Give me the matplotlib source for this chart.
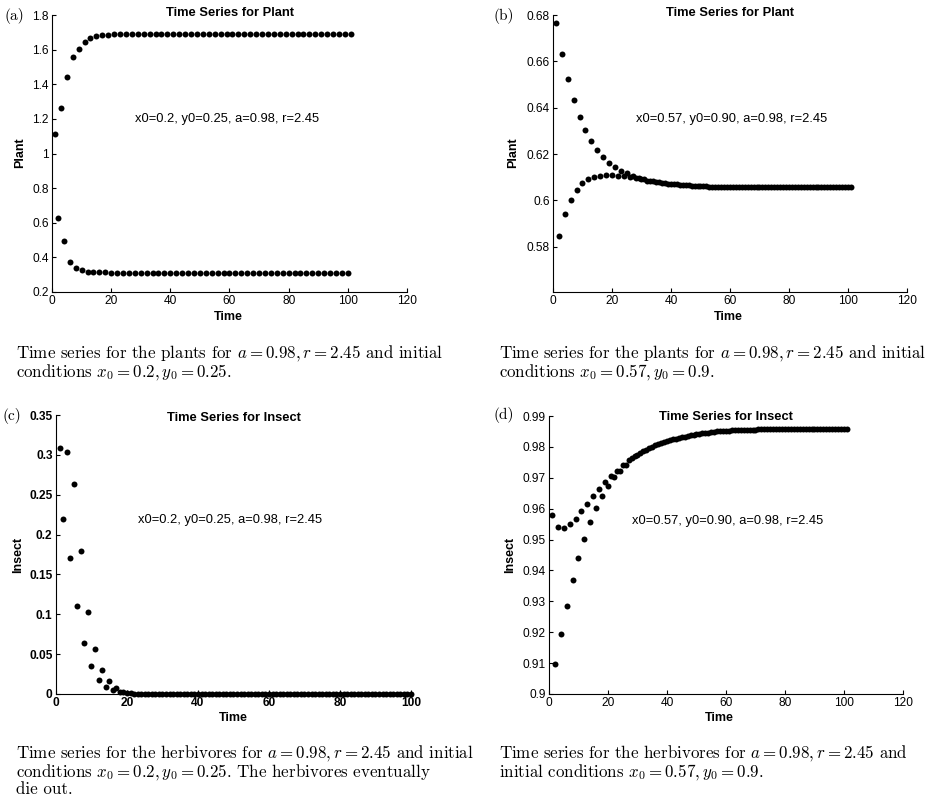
import matplotlib
matplotlib.use('Agg')
from matplotlib import pyplot as plt
from matplotlib.ticker import FormatStrFormatter

plt.rcParams['font.family'] = ['Liberation Sans', 'DejaVu Sans']
plt.rcParams['mathtext.fontset'] = 'cm'

# (a) plants, x0=0.2, y0=0.25
plant_a = [1.113, 0.625, 1.263, 0.494, 1.444, 0.375, 1.558, 0.336, 1.606, 0.329,
           1.646, 0.318, 1.665, 0.316, 1.681, 0.314, 1.686, 0.313, 1.687, 0.312,
           1.688, 0.312, 1.688, 0.312, 1.688, 0.312, 1.688, 0.312, 1.688, 0.312,
           1.688, 0.312, 1.688, 0.312, 1.688, 0.312, 1.688, 0.312, 1.688, 0.312,
           1.688, 0.312, 1.688, 0.312, 1.688, 0.312, 1.688, 0.312, 1.688, 0.312,
           1.688, 0.312, 1.688, 0.312, 1.688, 0.312, 1.688, 0.312, 1.688, 0.312,
           1.688, 0.312, 1.688, 0.312, 1.688, 0.312, 1.688, 0.312, 1.688, 0.312,
           1.688, 0.312, 1.688, 0.312, 1.688, 0.312, 1.688, 0.312, 1.688, 0.312,
           1.688, 0.312, 1.688, 0.312, 1.688, 0.312, 1.688, 0.312, 1.688, 0.312,
           1.688, 0.312, 1.688, 0.312, 1.688, 0.312, 1.688, 0.312, 1.688, 0.312,
           1.688]

# (b) plants, x0=0.57, y0=0.90
plant_b = [0.6767, 0.5845, 0.6633, 0.5940, 0.6524, 0.6003, 0.6433, 0.6046, 0.6360, 0.6075,
           0.6302, 0.6094, 0.6255, 0.6101, 0.6216, 0.6106, 0.6186, 0.6109, 0.6163, 0.6109,
           0.6144, 0.6106, 0.6128, 0.6105, 0.6117, 0.6101, 0.6106, 0.6096, 0.6098, 0.6092,
           0.6091, 0.6086, 0.6085, 0.6082, 0.6081, 0.6078, 0.6076, 0.6075, 0.6072, 0.6071,
           0.6070, 0.6069, 0.6068, 0.6067, 0.6066, 0.6065, 0.6064, 0.6063, 0.6062, 0.6062,
           0.6061, 0.6061, 0.6060, 0.6060, 0.6059, 0.6059, 0.6059, 0.6058, 0.6058, 0.6058,
           0.6057, 0.6057, 0.6057, 0.6057, 0.6057, 0.6057, 0.6057, 0.6057, 0.6057, 0.6057,
           0.6057, 0.6057, 0.6057, 0.6057, 0.6057, 0.6056, 0.6056, 0.6056, 0.6056, 0.6056,
           0.6056, 0.6056, 0.6056, 0.6056, 0.6056, 0.6056, 0.6056, 0.6056, 0.6056, 0.6056,
           0.6056, 0.6056, 0.6056, 0.6056, 0.6056, 0.6056, 0.6056, 0.6056, 0.6056, 0.6056,
           0.6056]

# (c) insects, x0=0.2, y0=0.25
insect_c = [0.308, 0.220, 0.304, 0.171, 0.264, 0.110, 0.179, 0.064, 0.103, 0.035,
            0.057, 0.018, 0.030, 0.009, 0.016, 0.005, 0.007, 0.002, 0.003, 0.001,
            0.0015, 0.0005, 0.0006, 0.0002, 0.0003, 0.0001, 0.0001, 0.0, 0.0, 0.0,
            0.0, 0.0, 0.0, 0.0, 0.0, 0.0, 0.0, 0.0, 0.0, 0.0,
            0.0, 0.0, 0.0, 0.0, 0.0, 0.0, 0.0, 0.0, 0.0, 0.0,
            0.0, 0.0, 0.0, 0.0, 0.0, 0.0, 0.0, 0.0, 0.0, 0.0,
            0.0, 0.0, 0.0, 0.0, 0.0, 0.0, 0.0, 0.0, 0.0, 0.0,
            0.0, 0.0, 0.0, 0.0, 0.0, 0.0, 0.0, 0.0, 0.0, 0.0,
            0.0, 0.0, 0.0, 0.0, 0.0, 0.0, 0.0, 0.0, 0.0, 0.0,
            0.0, 0.0, 0.0, 0.0, 0.0, 0.0, 0.0, 0.0, 0.0, 0.0]

# (d) insects, x0=0.57, y0=0.90
insect_d = [0.9578, 0.9098, 0.9542, 0.9195, 0.9537, 0.9286, 0.9550, 0.9368, 0.9567, 0.9441,
            0.9591, 0.9503, 0.9616, 0.9557, 0.9642, 0.9602, 0.9664, 0.9642, 0.9686, 0.9674,
            0.9706, 0.9701, 0.9723, 0.9722, 0.9742, 0.9742, 0.9758, 0.9763, 0.9769, 0.9775,
            0.9780, 0.9786, 0.9791, 0.9796, 0.9801, 0.9805, 0.9809, 0.9813, 0.9816, 0.9819,
            0.9822, 0.9825, 0.9827, 0.9829, 0.9831, 0.9833, 0.9835, 0.9837, 0.9839, 0.9841,
            0.9842, 0.9844, 0.9845, 0.9846, 0.9848, 0.9849, 0.9850, 0.9851, 0.9852, 0.9853,
            0.9853, 0.9854, 0.9854, 0.9855, 0.9855, 0.9855, 0.9856, 0.9856, 0.9856, 0.9856,
            0.9857, 0.9857, 0.9857, 0.9857, 0.9857, 0.9857, 0.9858, 0.9858, 0.9858, 0.9858,
            0.9858, 0.9858, 0.9858, 0.9858, 0.9858, 0.9858, 0.9858, 0.9858, 0.9858, 0.9858,
            0.9858, 0.9858, 0.9858, 0.9858, 0.9858, 0.9858, 0.9858, 0.9858, 0.9858, 0.9858,
            0.9858]

yticks_a = [0.2, 0.4, 0.6, 0.8, 1.0, 1.2, 1.4, 1.6, 1.8]
yticks_b = [0.58, 0.60, 0.62, 0.64, 0.66, 0.68]
yticks_c = [0, 0.05, 0.1, 0.15, 0.2, 0.25, 0.3, 0.35]
yticks_d = [0.9, 0.91, 0.92, 0.93, 0.94, 0.95, 0.96, 0.97, 0.98, 0.99]

note_a = 'x0=0.2, y0=0.25, a=0.98, r=2.45'
note_b = 'x0=0.57, y0=0.90, a=0.98, r=2.45'

captions = {
    'a': ['Time series for the plants for $a = 0.98, r = 2.45$ and initial',
          'conditions $x_0 = 0.2, y_0 = 0.25$.'],
    'b': ['Time series for the plants for $a = 0.98, r = 2.45$ and initial',
          'conditions $x_0 = 0.57, y_0 = 0.9$.'],
    'c': ['Time series for the herbivores for $a = 0.98, r = 2.45$ and initial',
          'conditions $x_0 = 0.2, y_0 = 0.25$. The herbivores eventually',
          'die out.'],
    'd': ['Time series for the herbivores for $a = 0.98, r = 2.45$ and',
          'initial conditions $x_0 = 0.57, y_0 = 0.9$.'],
}

W, H = 937.0, 801.0
fig = plt.figure(figsize=(W / 100, H / 100), dpi=100)


def px(x, y):
    """pixel position -> figure fraction"""
    return x / W, 1 - y / H


def panel(rect, values, xlim, ylim, yticks, title, ylabel, note, note_xy,
          title_xy, ylabel_xy, xlabel_xy, tag, tag_xy, bold_ticks=False):
    l, t, r, b = rect
    ax = fig.add_axes([l / W, 1 - b / H, (r - l) / W, (b - t) / H])
    times = list(range(1, len(values) + 1))
    ax.plot(times, values, 'o', color='black', ms=4.3, mew=0, clip_on=False)
    ax.set_xlim(*xlim)
    ax.set_ylim(*ylim)
    ax.set_yticks(yticks)
    ax.set_xticks(list(range(0, xlim[1] + 1, 20)))
    ax.yaxis.set_major_formatter(FormatStrFormatter('%g'))
    ax.spines['top'].set_visible(False)
    ax.spines['right'].set_visible(False)
    for s in ('left', 'bottom'):
        ax.spines[s].set_linewidth(0.8)
    ax.tick_params(direction='in', length=3, width=0.8, labelsize=8.6, pad=2.5)
    if bold_ticks:
        for lab in ax.get_xticklabels() + ax.get_yticklabels():
            lab.set_fontweight('bold')
    ax.text(note_xy[0], note_xy[1], note, fontsize=9.3, ha='left', va='center')
    fig.text(*px(*title_xy), title, fontsize=9.3, fontweight='bold',
             ha='center', va='baseline')
    fig.text(*px(*ylabel_xy), ylabel, fontsize=9, fontweight='bold',
             rotation=90, ha='center', va='center')
    fig.text(*px(*xlabel_xy), 'Time', fontsize=9, fontweight='bold',
             ha='center', va='center')
    fig.text(*px(*tag_xy), '(%s)' % tag, family='cmr10', fontsize=11,
             ha='center', va='center')
    return ax


panel((52, 15, 407, 292), plant_a, (0, 120), (0.2, 1.8), yticks_a,
      'Time Series for Plant', 'Plant', note_a, (28, 1.2),
      (230, 16.5), (20, 153), (228, 316.5), 'a', (14, 16))
panel((553, 15, 907, 292), plant_b, (0, 120), (0.5605, 0.68), yticks_b,
      'Time Series for Plant', 'Plant', note_b, (28, 0.635),
      (730, 16.5), (513, 153), (728, 316.5), 'b', (504, 16))
panel((56, 415, 411, 694), insect_c, (0, 100), (0, 0.35), yticks_c,
      'Time Series for Insect', 'Insect', note_a, (23, 0.218),
      (234, 421.5), (18, 555), (233, 718), 'c', (12, 416), bold_ticks=True)
panel((549, 416, 903, 694), insect_d, (0, 120), (0.9, 0.99), yticks_d,
      'Time Series for Insect', 'Insect', note_b, (28, 0.956),
      (726, 420), (510, 555), (719, 718), 'd', (504, 415))

# captions under each panel (top edge of first line)
cap_pos = {'a': (16, 343), 'b': (499, 343), 'c': (16, 743), 'd': (499, 743)}
for key, lines in captions.items():
    x0, y0 = cap_pos[key]
    fig.text(*px(x0, y0), '\n'.join(lines), family='cmr10', fontsize=12.2,
             ha='left', va='top', linespacing=0.95)

fig.savefig('out.png', dpi=100)
